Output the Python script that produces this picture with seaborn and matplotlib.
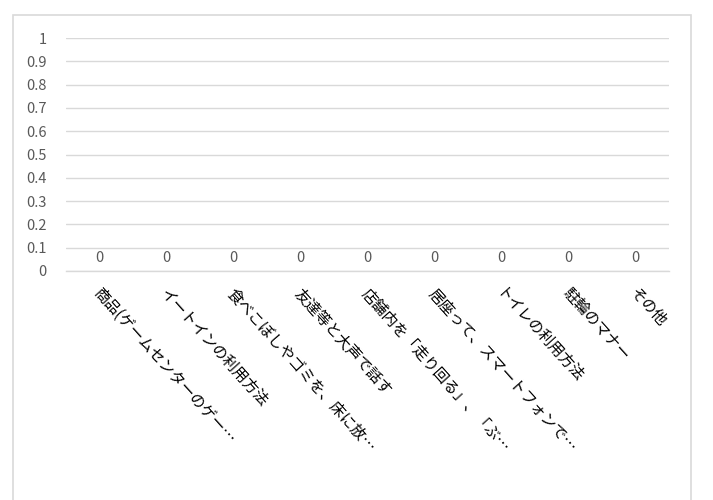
import matplotlib
matplotlib.use("Agg")
import matplotlib.pyplot as plt
import matplotlib.transforms as mtrans
import seaborn as sns
import pandas as pd
from matplotlib.patches import Rectangle

categories = [
    "商品(ゲームセンターのゲー…",
    "イートインの利用方法",
    "食べこぼしやゴミを、床に放…",
    "友達等と大声で話す",
    "店舗内を「走り回る」、「ぶ…",
    "居座って、スマートフォンで…",
    "トイレの利用方法",
    "駐輪のマナー",
    "その他",
]
values = [0, 0, 0, 0, 0, 0, 0, 0, 0]
y_ticks = [0, 0.1, 0.2, 0.3, 0.4, 0.5, 0.6, 0.7, 0.8, 0.9, 1]
y_tick_labels = ["0", "0.1", "0.2", "0.3", "0.4", "0.5", "0.6", "0.7", "0.8", "0.9", "1"]

sns.set_theme(style="white")
plt.rcParams["font.family"] = ["Noto Sans CJK JP", "DejaVu Sans"]

GRID = "#d9d9d9"
TXT = "#595959"
FS = 10.5

df = pd.DataFrame({"cat": categories, "val": values})

fig = plt.figure(figsize=(7.13, 5.0), dpi=100)
ax = fig.add_axes([66 / 713, 1 - 271 / 500, (669 - 66) / 713, (271 - 38) / 500])

sns.barplot(data=df, x="cat", y="val", color="#4472c4", ax=ax, width=0.6)
ax.set_xlim(-0.5, len(categories) - 0.5)
ax.set_ylim(0, 1)
ax.set_yticks(y_ticks)
ax.set_yticklabels(y_tick_labels)
ax.yaxis.grid(True, color=GRID, linewidth=1)
ax.set_axisbelow(True)
for s in ["top", "right", "left"]:
    ax.spines[s].set_visible(False)
ax.spines["bottom"].set_color(GRID)
ax.spines["bottom"].set_linewidth(1)
ax.set_xlabel("")
ax.set_ylabel("")
ax.tick_params(axis="y", length=0, pad=14, labelsize=FS, labelcolor=TXT)
ax.tick_params(axis="x", length=0, pad=0)

# data labels
for c in ax.containers:
    ax.bar_label(c, labels=[str(v) for v in values], padding=4, fontsize=FS, color=TXT)

# rotated category labels
ax.set_xticks(range(len(categories)))
ax.set_xticklabels(categories, rotation=-48, ha="left", va="top",
                   rotation_mode="anchor", fontsize=11, color="black")
offset = mtrans.ScaledTranslation(3 / 100, -14 / 100, fig.dpi_scale_trans)
for lbl in ax.get_xticklabels():
    lbl.set_transform(lbl.get_transform() + offset)

# chart border
fig.add_artist(Rectangle((13 / 713, -0.05), (691 - 13) / 713, 1.05 - 15 / 500,
                         transform=fig.transFigure, fill=False,
                         edgecolor=GRID, linewidth=1.2))

fig.savefig("out.png", dpi=100)
